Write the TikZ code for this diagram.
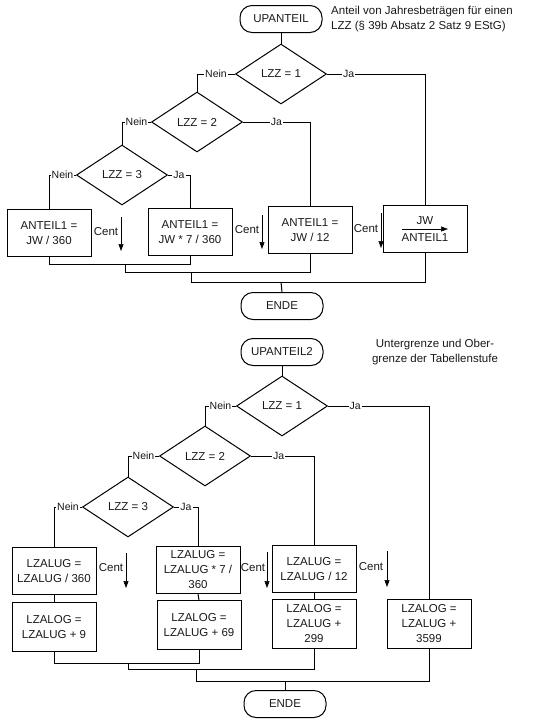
\documentclass[tikz,border=0pt]{standalone}
\usepackage{fontspec}
\setmainfont{Liberation Sans}
\usetikzlibrary{shapes.geometric,arrows.meta}
\begin{document}
\begin{tikzpicture}[x=1pt,y=-1pt,
  every node/.style={font=\fontsize{11.5}{15}\selectfont, text=black!90},
  box/.style={draw, line width=1pt, minimum width=84pt, minimum height=47pt, align=center, inner sep=2pt},
  term/.style={draw, line width=1pt, rounded corners=12pt, minimum width=82pt, minimum height=27pt},
  dec/.style={draw, diamond, line width=1pt, minimum width=91pt, minimum height=60pt, inner sep=0pt},
  lbl/.style={fill=white, inner sep=1pt, font=\fontsize{10.5}{12}\selectfont},
  conn/.style={line width=1pt},
  centarrow/.style={line width=0.6pt, -{Triangle[width=5pt,length=7pt]}},
  note/.style={inner sep=0pt}
]
\useasboundingbox (0,0) rectangle (548,724);

% ---------------- upper diagram ----------------
\node[term] (s1) at (281,19) {UPANTEIL};
\node[note, align=left, anchor=west] (n1) at (331,19.5) {Anteil von Jahresbeträgen für einen\\LZZ (§ 39b Absatz 2 Satz 9 EStG)};
\node[dec] (a1) at (281,74) {LZZ = 1};
\node[dec] (a2) at (197,122) {LZZ = 2};
\node[dec] (a3) at (122,175) {LZZ = 3};
\node[box] (b1) at (49,233) {ANTEIL1 =\\JW / 360};
\node[box] (b2) at (190,232) {ANTEIL1 =\\JW * 7 / 360};
\node[box] (b3) at (310,230) {ANTEIL1 =\\JW / 12};
\node[box] (b4) at (425,229) {};
\node (f1) at (425,221) {JW};
\node (f2) at (425,238) {ANTEIL1};
\coordinate (fl) at (402,229);
\coordinate (fr) at (448,229);
\draw[centarrow] (fl) -- (fr);
\node[term] (e1) at (282,306) {ENDE};

\draw[conn] (s1.south) -- (a1.north);
\draw[conn] (a1.west) -- node[lbl]{Nein} (a2.north |- a1.west) -- (a2.north);
\draw[conn] (a1.east) -- node[lbl,pos=0.22]{Ja} (b4.north |- a1.east) -- (b4.north);
\draw[conn] (a2.west) -- node[lbl]{Nein} (a3.north |- a2.west) -- (a3.north);
\draw[conn] (a2.east) -- node[lbl,pos=0.5]{Ja} (b3.north |- a2.east) -- (b3.north);
\draw[conn] (a3.west) -- node[lbl]{Nein} (b1.north |- a3.west) -- (b1.north);
\draw[conn] (a3.east) -- node[lbl]{Ja} (b2.north |- a3.east) -- (b2.north);

\coordinate (m1) at (125,264);
\coordinate (m2) at (191,272);
\coordinate (m3) at (281,282);
\draw[conn] (b1.south) -- (b1.south |- m1) -- (b2.south |- m1) -- (b2.south);
\draw[conn] (m1) -- (m1 |- m2) -- (b3.south |- m2) -- (b3.south);
\draw[conn] (m2) -- (m2 |- m3) -- (b4.south |- m3) -- (b4.south);
\draw[conn] (m3) -- (e1.north);

\coordinate (c1s) at (121,217); \coordinate (c1e) at (121,251);
\coordinate (c2s) at (262,215); \coordinate (c2e) at (262,249);
\coordinate (c3s) at (381,213); \coordinate (c3e) at (381,248);
\draw[centarrow] (c1s) -- (c1e);
\draw[centarrow] (c2s) -- (c2e);
\draw[centarrow] (c3s) -- (c3e);
\node (t1) at (106,232) {Cent};
\node (t2) at (247,230) {Cent};
\node (t3) at (366,229) {Cent};

% ---------------- lower diagram ----------------
\node[term] (s2) at (282,352) {UPANTEIL2};
\node[note, align=center] (n2) at (435,352.5) {Untergrenze und Ober-\\grenze der Tabellenstufe};
\node[dec] (d1) at (282,406) {LZZ = 1};
\node[dec] (d2) at (205,456) {LZZ = 2};
\node[dec] (d3) at (128,507) {LZZ = 3};
\node[box] (g1) at (54,571) {LZALUG =\\LZALUG / 360};
\node[box] (g2) at (198,570) {LZALUG =\\LZALUG * 7 /\\360};
\node[box] (g3) at (314,569) {LZALUG =\\LZALUG / 12};
\node[box, minimum height=49pt] (h1) at (54,627) {LZALOG =\\LZALUG + 9};
\node[box, minimum height=49pt] (h2) at (199,625) {LZALOG =\\LZALUG + 69};
\node[box, minimum height=49pt] (h3) at (314,624) {LZALOG =\\LZALUG +\\299};
\node[box, minimum height=49pt] (h4) at (429,624) {LZALOG =\\LZALUG +\\3599};
\node[term] (e2) at (285,704) {ENDE};

\draw[conn] (s2.south) -- (d1.north);
\draw[conn] (d1.west) -- node[lbl]{Nein} (d2.north |- d1.west) -- (d2.north);
\draw[conn] (d1.east) -- node[lbl,pos=0.27]{Ja} (h4.north |- d1.east) -- (h4.north);
\draw[conn] (d2.west) -- node[lbl]{Nein} (d3.north |- d2.west) -- (d3.north);
\draw[conn] (d2.east) -- node[lbl,pos=0.44]{Ja} (g3.north |- d2.east) -- (g3.north);
\draw[conn] (d3.west) -- node[lbl]{Nein} (g1.north |- d3.west) -- (g1.north);
\draw[conn] (d3.east) -- node[lbl]{Ja} (g2.north |- d3.east) -- (g2.north);
\draw[conn] (g1.south) -- (h1.north);
\draw[conn] (g2.south) -- (h2.north);
\draw[conn] (g3.south) -- (h3.north);

\coordinate (k1) at (128,663);
\coordinate (k2) at (196,669);
\coordinate (k3) at (285,681);
\draw[conn] (h1.south) -- (h1.south |- k1) -- (h2.south |- k1) -- (h2.south);
\draw[conn] (k1) -- (k1 |- k2) -- (h3.south |- k2) -- (h3.south);
\draw[conn] (k2) -- (k2 |- k3) -- (h4.south |- k3) -- (h4.south);
\draw[conn] (k3) -- (e2.north);

\coordinate (q1s) at (126,553); \coordinate (q1e) at (126,588);
\coordinate (q2s) at (267,552); \coordinate (q2e) at (267,588);
\coordinate (q3s) at (387,551); \coordinate (q3e) at (387,587);
\draw[centarrow] (q1s) -- (q1e);
\draw[centarrow] (q2s) -- (q2e);
\draw[centarrow] (q3s) -- (q3e);
\node (u1) at (111,568) {Cent};
\node (u2) at (253,568) {Cent};
\node (u3) at (371,567) {Cent};
\end{tikzpicture}
\end{document}
